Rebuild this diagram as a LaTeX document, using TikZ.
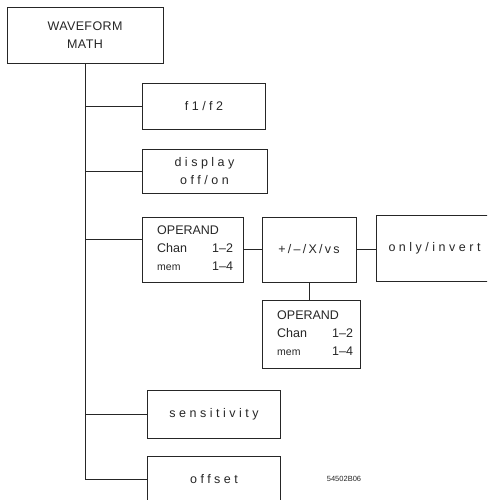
\documentclass[tikz,border=0pt]{standalone}
\usepackage{fontspec}
\setmainfont{Liberation Sans}
\newfontfamily\spaced[LetterSpace=28]{Liberation Sans}
\newfontfamily\opspaced[LetterSpace=18]{Liberation Sans}
\newfontfamily\capsp[LetterSpace=3]{Liberation Sans}
\newcommand{\oprow}[2]{\makebox[55pt][l]{#1}#2}
\begin{document}
\begin{tikzpicture}[x=1pt,y=-1pt,
  box/.style={draw=black!85,line width=0.8pt,rectangle,inner sep=0pt},
  conn/.style={draw=black!85,line width=0.8pt},
  lbl/.style={font=\fontsize{12.5}{18}\selectfont\spaced},
  caps/.style={font=\fontsize{12.5}{18}\selectfont\capsp},
  opnd/.style={anchor=west,inner sep=0pt,font=\fontsize{12.5}{18}\selectfont,align=left},
  every node/.style={text=black!85}]
\useasboundingbox (0,0) rectangle (487,500);
\clip (0,0) rectangle (487,500);
% boxes
\node[box,minimum width=156pt,minimum height=56pt,caps,align=center] (wm) at (85,35) {WAVEFORM\\MATH};
\node[box,minimum width=123pt,minimum height=46pt,lbl] (f) at (204,106) {f1/f2};
\node[box,minimum width=125pt,minimum height=44pt,lbl,align=center] (d) at (204.5,171) {display\\off/on};
\node[box,minimum width=101pt,minimum height=65pt] (o1) at (192.5,249.5) {};
\node[opnd] (o1t) at (157,248.5) {OPERAND\\\oprow{Chan}{1–2}\\\oprow{\fontsize{10.5}{18}\selectfont mem}{1–4}};
\node[box,minimum width=94pt,minimum height=65pt,font=\fontsize{12.5}{14}\selectfont\opspaced] (op) at (309,249.5) {+/–/X/vs};
\node[box,minimum width=140pt,minimum height=66pt,anchor=west] (oi) at (376,248) {};
\node[anchor=west,lbl] (oit) at (385,248) {only/invert};
\node[box,minimum width=98pt,minimum height=68pt] (o2) at (311,334) {};
\node[opnd] (o2t) at (277,333) {OPERAND\\\oprow{Chan}{1–2}\\\oprow{\fontsize{10.5}{18}\selectfont mem}{1–4}};
\node[box,minimum width=133pt,minimum height=48pt,lbl] (s) at (214,414) {sensitivity};
\node[box,minimum width=133pt,minimum height=80pt,anchor=north] (of) at (214,456) {};
\node[lbl] (oft) at (214,479) {offset};
\node[font=\fontsize{7.5}{9}\selectfont] (id) at (344,479) {54502B06};
% trunk
\coordinate (t0) at (wm.south);
\draw[conn] (t0) -- (t0 |- oft);
\draw[conn] (t0 |- f) -- (f.west);
\draw[conn] (t0 |- d) -- (d.west);
\draw[conn] (t0 |- 0,239) -- (o1.west |- 0,239);
\draw[conn] (t0 |- s) -- (s.west);
\draw[conn] (t0 |- oft) -- (of.west |- oft);
\draw[conn] (o1.east |- op.west) -- (op.west);
\draw[conn] (op.east) -- (oi.west |- op.east);
\draw[conn] (op.south) -- (op.south |- o2.north);
\end{tikzpicture}
\end{document}
